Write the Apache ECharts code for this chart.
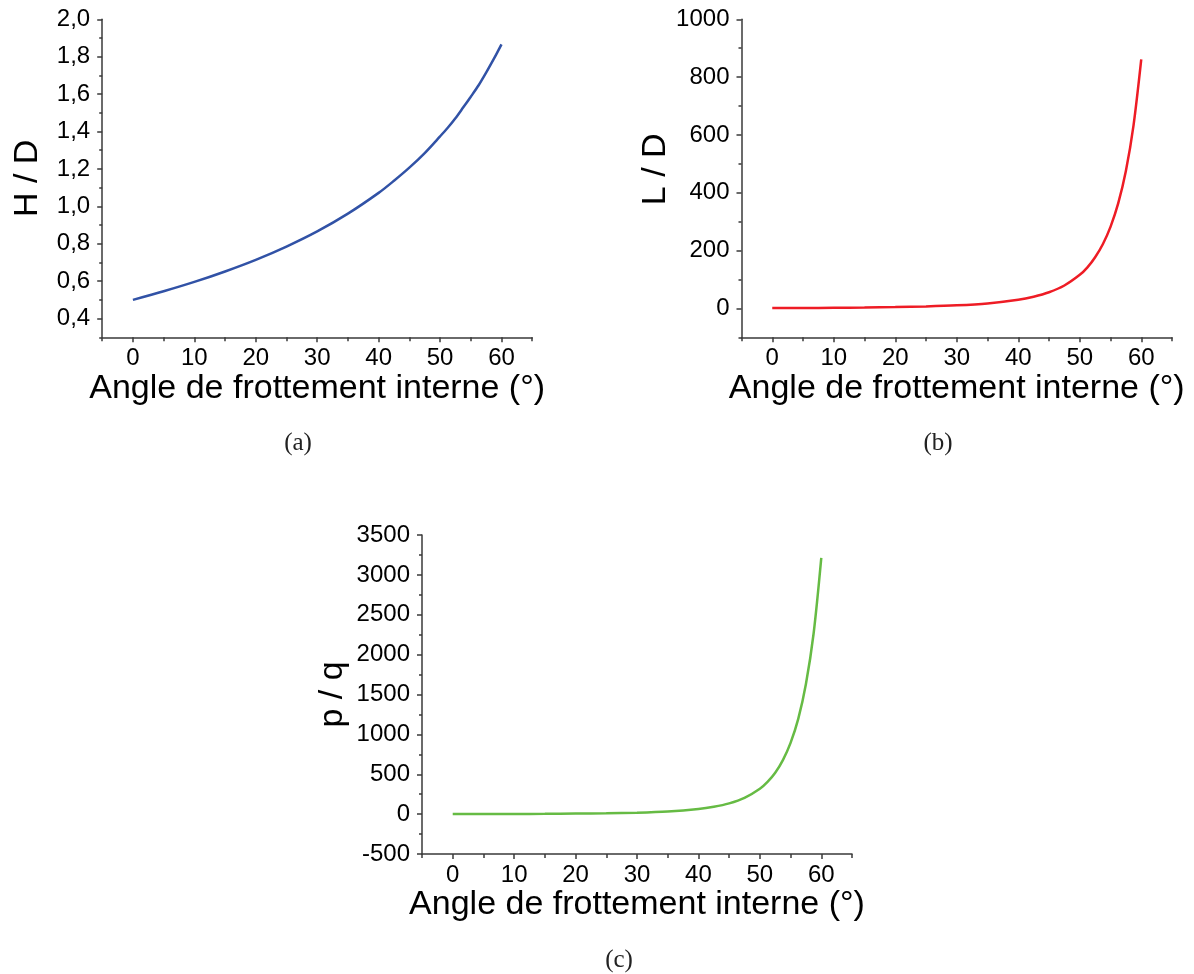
<!DOCTYPE html>
<html>
<head>
<meta charset="utf-8">
<script src="https://cdn.jsdelivr.net/npm/echarts@6/dist/echarts.min.js"></script>
<style>
html,body{margin:0;padding:0;background:#fff;}
#chart{width:1194px;height:974px;}
</style>
</head>
<body>
<div id="chart"></div>
<script>
// ---- data ----
const angles = [0, 5, 10, 15, 20, 25, 30, 35, 40, 42.5, 45, 47.5, 50, 51.25, 52.5, 53.75, 55, 56.25, 57.5, 58.75, 60];
const hOverD = [0.500, 0.546, 0.596, 0.652, 0.714, 0.785, 0.866, 0.961, 1.072, 1.137, 1.207, 1.285, 1.374, 1.420, 1.471, 1.528, 1.586, 1.646, 1.715, 1.788, 1.866];
const lOverD = [1.0, 1.4, 2.1, 3.0, 4.5, 6.8, 10.6, 17.3, 29.9, 40.5, 55.9, 79.2, 116, 142, 177, 222, 282, 363, 475, 634, 861];
const pOverQ = [1.0, 1.6, 2.5, 3.9, 6.4, 10.7, 18.4, 33.3, 64.2, 92.1, 135, 204, 319, 405, 519, 678, 894, 1194, 1631, 2265, 3214];

const xMajorTicks = [0, 10, 20, 30, 40, 50, 60];
const xMinorTicks = [-5, 5, 15, 25, 35, 45, 55, 65];
const yTicksA = [0.4, 0.6, 0.8, 1.0, 1.2, 1.4, 1.6, 1.8, 2.0];
const yMinorA = [0.3, 0.5, 0.7, 0.9, 1.1, 1.3, 1.5, 1.7, 1.9];
const yTicksB = [0, 200, 400, 600, 800, 1000];
const yMinorB = [-100, 100, 300, 500, 700, 900];
const yTicksC = [-500, 0, 500, 1000, 1500, 2000, 2500, 3000, 3500];
const yMinorC = [-250, 250, 750, 1250, 1750, 2250, 2750, 3250];

const xTitle = 'Angle de frottement interne (°)';
const yTitles = ['H / D', 'L / D', 'p / q'];
const captions = ['(a)', '(b)', '(c)'];
const colors = ['#3152a6', '#ee1c25', '#66bb44'];

// ---- styling ----
const AX = '#3a3a3a';
const labelFont = {color: '#000', fontFamily: 'Liberation Sans', fontSize: 24};
const nameFont = {color: '#000', fontFamily: 'Liberation Sans', fontSize: 34};

const grids = [
  {left: 102.2, top: 19.3, width: 430, height: 318},
  {left: 741.5, top: 19.3, width: 430.5, height: 318},
  {left: 422, top: 535, width: 430, height: 319}
];

function xAxes(gi) {
  return [
    {
      type: 'value', gridIndex: gi, position: 'bottom', min: -5, max: 65, interval: 5,
      name: xTitle, nameLocation: 'middle', nameGap: 33, nameTextStyle: nameFont,
      axisLine: {show: true, onZero: false, lineStyle: {color: AX, width: 1.5}},
      axisTick: {show: true, customValues: xMajorTicks, length: 5, lineStyle: {color: AX, width: 1.5}},
      axisLabel: {customValues: xMajorTicks, margin: 9, ...labelFont},
      splitLine: {show: false}
    },
    {
      type: 'value', gridIndex: gi, position: 'bottom', min: -5, max: 65, interval: 5,
      axisLine: {show: false, onZero: false},
      axisTick: {show: true, customValues: xMinorTicks, length: 4, lineStyle: {color: AX, width: 1.5}},
      axisLabel: {show: false},
      splitLine: {show: false}
    }
  ];
}

function yAxes(gi, min, max, interval, major, minor, fmt, gap, pad) {
  return [
    {
      type: 'value', gridIndex: gi, position: 'left', min: min, max: max, interval: interval,
      name: yTitles[gi], nameLocation: 'middle', nameGap: gap,
      nameTextStyle: Object.assign({}, nameFont, pad ? {padding: pad} : {}),
      axisLine: {show: true, onZero: false, lineStyle: {color: AX, width: 1.5}},
      axisTick: {show: true, customValues: major, length: 5, lineStyle: {color: AX, width: 1.5}},
      axisLabel: {customValues: major, margin: 12, formatter: fmt, ...labelFont},
      splitLine: {show: false}
    },
    {
      type: 'value', gridIndex: gi, position: 'left', min: min, max: max, interval: interval,
      axisLine: {show: false, onZero: false},
      axisTick: {show: true, customValues: minor, length: 3, lineStyle: {color: AX, width: 1.5}},
      axisLabel: {show: false},
      splitLine: {show: false}
    }
  ];
}

const commaFmt = v => (Math.round(v * 10) / 10).toFixed(1).replace('.', ',');
const intFmt = v => String(Math.round(v));

function pairs(ys) { return angles.map((a, i) => [a, ys[i]]); }

function lineSeries(xi, yi, ys, color) {
  return {type: 'line', xAxisIndex: xi, yAxisIndex: yi, data: pairs(ys), smooth: 0.3,
    showSymbol: false, lineStyle: {color: color, width: 2.5}, itemStyle: {color: color}};
}

function caption(text, cx, cy) {
  return {type: 'text', x: cx, y: cy,
    style: {text: text, align: 'center', verticalAlign: 'middle', fill: '#222', font: '25px "Liberation Serif"'}};
}

const option = {
  animation: false,
  backgroundColor: '#ffffff',
  grid: grids,
  xAxis: [].concat(xAxes(0), xAxes(1), xAxes(2)),
  yAxis: [].concat(
    yAxes(0, 0.3, 2.0, 0.1, yTicksA, yMinorA, commaFmt, 58),
    yAxes(1, -100, 1000, 100, yTicksB, yMinorB, intFmt, 65, [0, 0, 0, 18]),
    yAxes(2, -500, 3500, 250, yTicksC, yMinorC, intFmt, 72)
  ),
  series: [
    lineSeries(0, 0, hOverD, colors[0]),
    lineSeries(2, 2, lOverD, colors[1]),
    lineSeries(4, 4, pOverQ, colors[2])
  ],
  graphic: [
    caption(captions[0], 298, 443),
    caption(captions[1], 938, 443),
    caption(captions[2], 619, 960)
  ]
};

const chart = echarts.init(document.getElementById('chart'), null, {renderer: 'canvas'});
chart.setOption(option);
</script>
</body>
</html>
